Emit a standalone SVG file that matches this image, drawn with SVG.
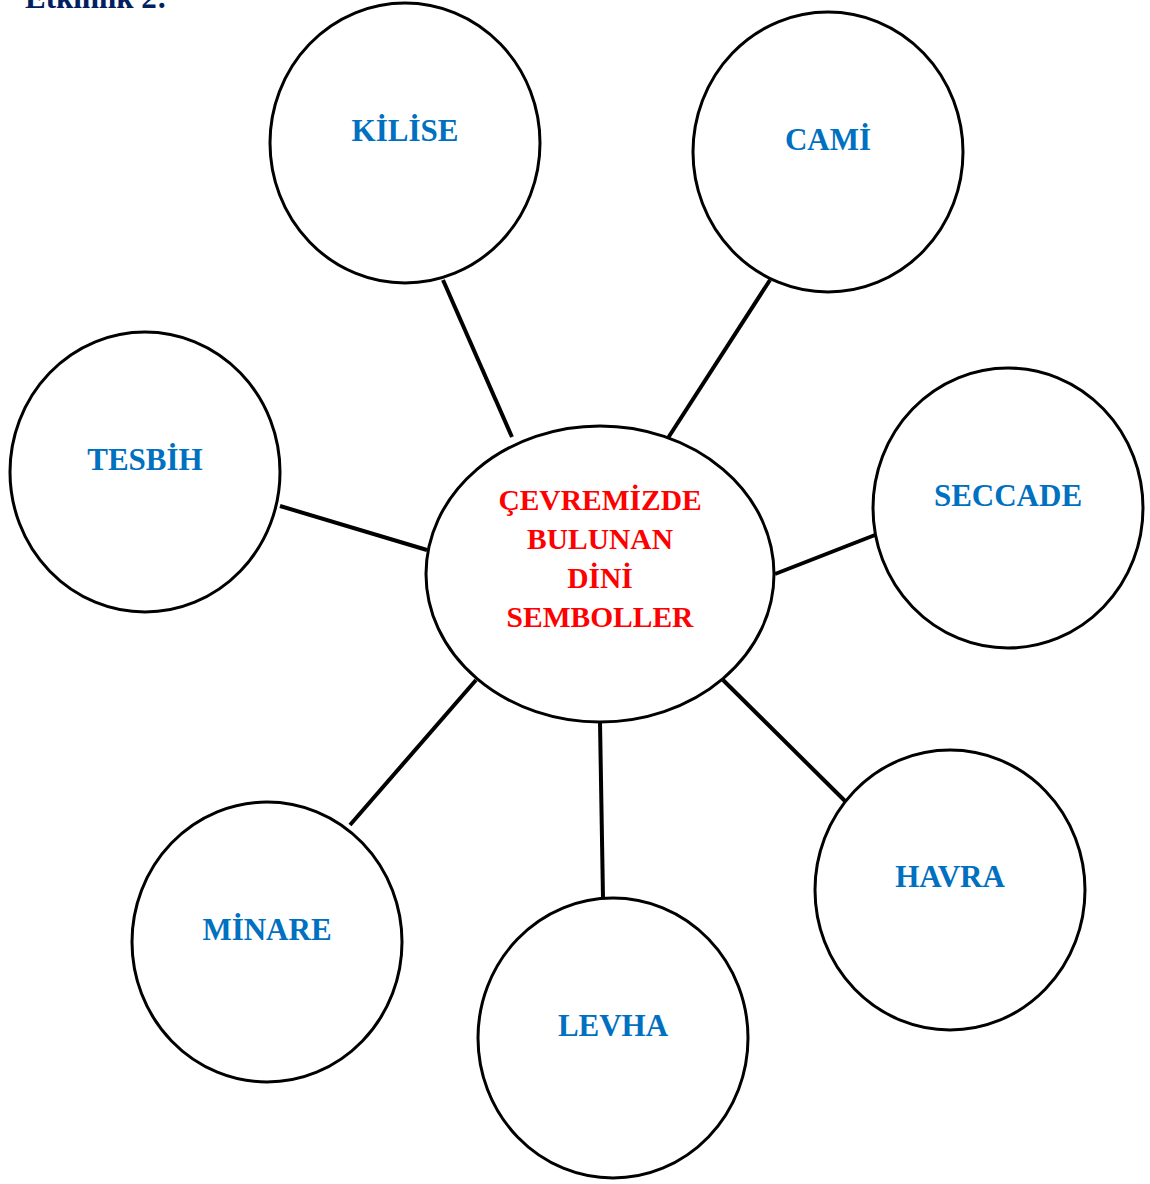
<svg xmlns="http://www.w3.org/2000/svg" width="1150" height="1184" viewBox="0 0 1150 1184">
<style>
.node{fill:#fff;stroke:#000;stroke-width:3}
.lbl{font-family:"Liberation Serif","Times New Roman",serif;font-weight:bold;font-size:31px;fill:#0070C0;text-anchor:middle}
.ctr{font-family:"Liberation Serif","Times New Roman",serif;font-weight:bold;font-size:29.5px;fill:#FF0000;text-anchor:middle}
.conn line{stroke:#000;stroke-width:4}
</style>
<rect width="1150" height="1184" fill="#fff"/>
<text x="25" y="8" font-family="Liberation Serif, Times New Roman, serif" font-weight="bold" font-size="31" fill="#002060">Etkinlik 2:</text>
<g id="connectors" class="conn">
<line x1="443" y1="280" x2="512" y2="437"/>
<line x1="770" y1="280" x2="668" y2="438"/>
<line x1="280" y1="506" x2="427" y2="550"/>
<line x1="775" y1="574" x2="875" y2="535"/>
<line x1="476" y1="680" x2="350" y2="825"/>
<line x1="600" y1="722" x2="603" y2="898"/>
<line x1="723" y1="680" x2="845" y2="801"/>
</g>
<g id="center">
<ellipse class="node" cx="600" cy="574" rx="174" ry="148"/>
<text class="ctr" x="600" y="510">ÇEVREMİZDE</text>
<text class="ctr" x="600" y="549">BULUNAN</text>
<text class="ctr" x="600" y="588">DİNİ</text>
<text class="ctr" x="600" y="627">SEMBOLLER</text>
</g>
<g id="kilise">
<ellipse class="node" cx="405" cy="143" rx="135" ry="140"/>
<text class="lbl" x="405" y="141">KİLİSE</text>
</g>
<g id="cami">
<ellipse class="node" cx="828" cy="152" rx="135" ry="140"/>
<text class="lbl" x="828" y="150">CAMİ</text>
</g>
<g id="tesbih">
<ellipse class="node" cx="145" cy="472" rx="135" ry="140"/>
<text class="lbl" x="145" y="470">TESBİH</text>
</g>
<g id="seccade">
<ellipse class="node" cx="1008" cy="508" rx="135" ry="140"/>
<text class="lbl" x="1008" y="506">SECCADE</text>
</g>
<g id="minare">
<ellipse class="node" cx="267" cy="942" rx="135" ry="140"/>
<text class="lbl" x="267" y="940">MİNARE</text>
</g>
<g id="levha">
<ellipse class="node" cx="613" cy="1038" rx="135" ry="140"/>
<text class="lbl" x="613" y="1036">LEVHA</text>
</g>
<g id="havra">
<ellipse class="node" cx="950" cy="890" rx="135" ry="140"/>
<text class="lbl" x="950" y="887">HAVRA</text>
</g>
</svg>
